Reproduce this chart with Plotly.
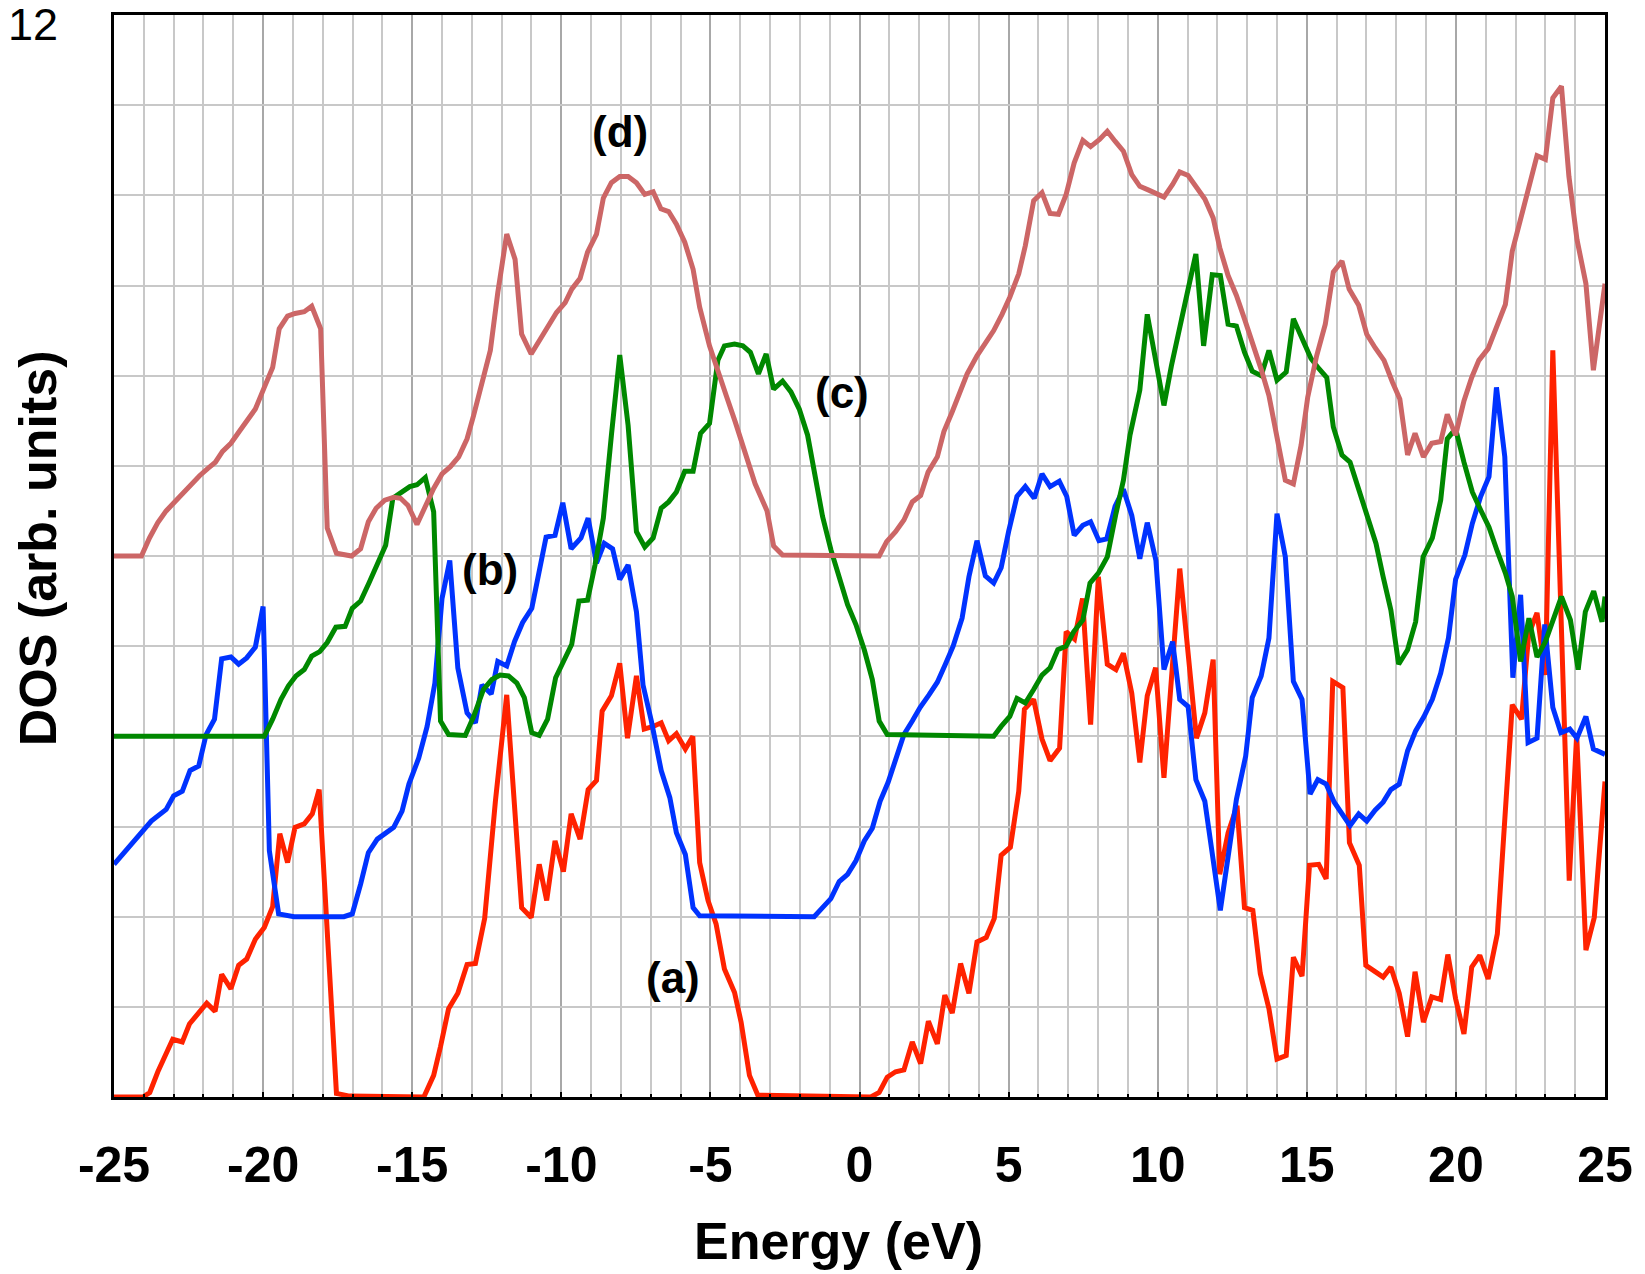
import plotly.graph_objects as go

# Energy grid (eV) and DOS values for each curve; curves are stacked with offsets 0, 2, 4, 6
energy_a = [-25, -24.03, -23.8, -23.53, -23.03, -22.71, -22.47, -22.19, -21.89, -21.61, -21.39, -21.08,
            -20.82, -20.55, -20.26, -19.96, -19.68, -19.44, -19.18, -18.93, -18.62, -18.35, -18.12, -17.54,
            -17.1, -14.61, -14.28, -14.05, -13.78, -13.47, -13.16, -12.88, -12.57, -12.21, -11.83, -11.33,
            -11.01, -10.74, -10.49, -10.21, -9.93, -9.67, -9.37, -9.10, -8.82, -8.63, -8.32, -8.04, -7.78,
            -7.48, -7.22, -6.92, -6.65, -6.40, -6.14, -5.84, -5.59, -5.36, -5.08, -4.81, -4.53, -4.19, -3.97,
            -3.69, -3.41, 0.38, 0.66, 0.93, 1.21, 1.49, 1.77, 2.05, 2.31, 2.61, 2.86, 3.11, 3.39, 3.67, 3.94,
            4.25, 4.52, 4.75, 5.06, 5.34, 5.53, 5.84, 6.12, 6.39, 6.71, 6.93, 7.21, 7.48, 7.75, 8.01, 8.31,
            8.60, 8.85, 9.13, 9.40, 9.65, 9.93, 10.21, 10.74, 11.30, 11.58, 11.86, 12.08, 12.36, 12.66, 12.91,
            13.19, 13.44, 13.73, 14.00, 14.31, 14.55, 14.84, 15.09, 15.40, 15.65, 15.87, 16.21, 16.43, 16.76,
            16.98, 17.29, 17.56, 17.82, 18.10, 18.38, 18.63, 18.91, 19.19, 19.49, 19.73, 19.99, 20.27, 20.53,
            20.80, 21.08, 21.39, 21.89, 22.20, 22.44, 22.72, 23.00, 23.25, 23.80, 24.05, 24.36, 24.64, 25.0]
dos_a = [0, 0, 0.05, 0.28, 0.64, 0.61, 0.81, 0.93, 1.04, 0.95, 1.36, 1.20,
         1.46, 1.53, 1.75, 1.88, 2.11, 2.92, 2.60, 2.99, 3.03, 3.14, 3.41, 0.04,
         0.01, 0, 0.24, 0.56, 0.98, 1.15, 1.47, 1.48, 1.98, 3.28, 4.46, 2.10,
         1.99, 2.58, 2.18, 2.84, 2.50, 3.14, 2.86, 3.41, 3.51, 4.28, 4.45, 4.81, 3.98,
         4.67, 4.08, 4.11, 4.15, 3.95, 4.03, 3.86, 4.00, 2.60, 2.18, 1.92, 1.42, 1.16, 0.83,
         0.24, 0.02, 0, 0.05, 0.22, 0.28, 0.30, 0.61, 0.37, 0.84, 0.59, 1.13, 0.93, 1.48, 1.15, 1.72,
         1.77, 1.98, 2.68, 2.77, 3.39, 4.30, 4.41, 3.97, 3.73, 3.87, 5.16, 5.08, 5.53, 4.13, 5.77, 4.80,
         4.74, 4.92, 4.48, 3.71, 4.45, 4.76, 3.54, 5.86, 3.98, 4.26, 4.85, 2.47, 2.93, 3.23, 2.10,
         2.07, 1.37, 0.98, 0.42, 0.46, 1.55, 1.34, 2.57, 2.58, 2.42, 4.61, 4.54, 2.82, 2.57,
         1.46, 1.39, 1.33, 1.44, 1.15, 0.67, 1.39, 0.83, 1.11, 1.08, 1.58, 1.09, 0.70, 1.44,
         1.57, 1.31, 1.81, 4.35, 4.19, 5.13, 5.37, 4.68, 8.28, 2.40, 4.02, 1.63, 1.99, 3.50]

energy_b = [-25, -23.75, -23.25, -23.0, -22.71, -22.45, -22.16, -21.91, -21.63, -21.39, -21.08, -20.82,
            -20.55, -20.26, -20.0, -19.79, -19.48, -18.96, -17.29, -17.01, -16.73, -16.47, -16.17, -15.89,
            -15.62, -15.34, -15.11, -14.78, -14.50, -14.24, -14.0, -13.74, -13.47, -13.16, -12.88, -12.66,
            -12.35, -12.13, -11.83, -11.57, -11.30, -10.99, -10.77, -10.51, -10.21, -9.95, -9.67, -9.34,
            -9.10, -8.82, -8.56, -8.28, -8.04, -7.76, -7.48, -7.26, -6.98, -6.65, -6.36, -6.14, -5.84,
            -5.58, -5.36, -1.52, -1.24, -0.96, -0.68, -0.40, -0.12, 0.16, 0.43, 0.69, 0.96, 1.21, 1.49,
            1.77, 2.03, 2.33, 2.61, 2.88, 3.14, 3.44, 3.67, 3.94, 4.22, 4.50, 4.75, 5.0, 5.28, 5.56, 5.86,
            6.12, 6.39, 6.70, 6.95, 7.20, 7.49, 7.75, 8.03, 8.29, 8.57, 8.85, 9.13, 9.40, 9.65, 9.94,
            10.21, 10.50, 10.74, 11.02, 11.28, 11.58, 12.10, 12.64, 12.95, 13.17, 13.47, 13.73, 14.00,
            14.28, 14.55, 14.84, 15.11, 15.37, 15.65, 15.92, 16.20, 16.45, 16.74, 17.01, 17.29, 17.56,
            17.82, 18.10, 18.38, 18.65, 18.93, 19.21, 19.49, 19.75, 19.99, 20.30, 20.55, 20.83, 21.11,
            21.36, 21.64, 21.91, 22.17, 22.42, 22.72, 22.98, 23.25, 23.52, 23.82, 24.06, 24.36, 24.61, 25.0]
dos_b = [2.58, 3.06, 3.19, 3.34, 3.39, 3.62, 3.67, 4.02, 4.19, 4.86, 4.88, 4.80,
         4.87, 4.99, 5.44, 2.73, 2.03, 2.0, 2.0, 2.03, 2.36, 2.71, 2.86, 2.92,
         2.99, 3.17, 3.47, 3.76, 4.11, 4.59, 5.53, 5.95, 4.76, 4.26, 4.15, 4.57,
         4.47, 4.83, 4.78, 5.05, 5.26, 5.42, 5.79, 6.21, 6.23, 6.59, 6.08, 6.20,
         6.42, 5.92, 6.14, 6.08, 5.74, 5.90, 5.38, 4.57, 4.17, 3.62, 3.32, 2.93, 2.69,
         2.10, 2.01, 2.0, 2.10, 2.20, 2.39, 2.47, 2.62, 2.84, 2.98, 3.28, 3.49, 3.76, 4.02,
         4.17, 4.32, 4.46, 4.60, 4.80, 5.0, 5.31, 5.77, 6.17, 5.78, 5.70, 5.87, 6.27, 6.66, 6.77, 6.64,
         6.91, 6.77, 6.83, 6.66, 6.23, 6.34, 6.38, 6.17, 6.19, 6.55, 6.74, 6.45, 5.97, 6.37, 5.95,
         4.74, 5.05, 4.41, 4.33, 3.52, 3.28, 2.07, 3.30, 3.78, 4.43, 4.67, 5.09, 6.47,
         5.99, 4.61, 4.41, 3.36, 3.52, 3.47, 3.27, 3.12, 3.01, 3.14, 3.06, 3.18, 3.27,
         3.41, 3.47, 3.84, 4.06, 4.22, 4.41, 4.70, 5.09, 5.74, 6.01, 6.36, 6.66, 6.88,
         7.87, 7.10, 4.65, 5.57, 3.93, 3.98, 5.24, 4.32, 4.04, 4.08, 3.98, 4.22, 3.86, 3.80]

energy_c = [-25, -19.96, -19.68, -19.40, -19.15, -18.90, -18.62, -18.37, -18.10, -17.85, -17.56, -17.25,
            -17.01, -16.73, -16.45, -16.17, -15.89, -15.65, -15.34, -15.08, -14.84, -14.56, -14.28, -14.05,
            -13.78, -13.22, -12.94, -12.61, -12.33, -12.05, -11.77, -11.49, -11.24, -10.99, -10.74, -10.46,
            -10.19, -9.93, -9.65, -9.41, -9.12, -8.87, -8.59, -8.32, -8.04, -7.76, -7.48, -7.20, -6.92,
            -6.65, -6.40, -6.14, -5.86, -5.58, -5.33, -5.03, -4.75, -4.53, -4.19, -3.91, -3.66, -3.39,
            -3.13, -2.88, -2.58, -2.30, -2.02, -1.74, -1.52, -1.24, -0.96, -0.68, -0.40, -0.12, 0.16, 0.43,
            0.66, 0.93, 4.50, 4.75, 5.04, 5.28, 5.56, 5.84, 6.12, 6.39, 6.65, 6.93, 7.18, 7.49, 7.73, 8.01,
            8.31, 8.60, 8.85, 9.07, 9.40, 9.65, 9.93, 10.21, 10.46, 10.74, 11.02, 11.28, 11.54, 11.83,
            12.10, 12.36, 12.64, 12.91, 13.17, 13.47, 13.73, 14.00, 14.31, 14.55, 14.84, 15.14, 15.40,
            15.67, 15.89, 16.18, 16.45, 16.74, 17.01, 17.32, 17.56, 17.82, 18.08, 18.38, 18.65, 18.90,
            19.21, 19.49, 19.71, 19.99, 20.27, 20.55, 20.83, 21.11, 21.39, 21.66, 21.89, 22.17, 22.45,
            22.72, 23.00, 23.28, 23.54, 23.84, 24.10, 24.34, 24.62, 24.90, 25.0]
dos_c = [4.0, 4.0, 4.19, 4.41, 4.56, 4.67, 4.74, 4.89, 4.94, 5.04, 5.21, 5.22,
         5.42, 5.50, 5.70, 5.90, 6.12, 6.64, 6.72, 6.77, 6.79, 6.87, 6.49, 4.17,
         4.02, 4.01, 4.22, 4.52, 4.63, 4.68, 4.67, 4.59, 4.43, 4.04, 4.01, 4.19,
         4.65, 4.83, 5.02, 5.50, 5.51, 5.90, 6.42, 7.34, 8.23, 7.45, 6.27, 6.10, 6.20,
         6.53, 6.60, 6.71, 6.94, 6.94, 7.36, 7.47, 8.17, 8.33, 8.35, 8.33, 8.26, 8.02,
         8.24, 7.85, 7.94, 7.82, 7.63, 7.34, 6.91, 6.44, 6.07, 5.74, 5.46, 5.24, 4.96, 4.63,
         4.17, 4.02, 4.0, 4.11, 4.22, 4.42, 4.37, 4.52, 4.68, 4.76, 4.96, 5.00, 5.16, 5.29, 5.70, 5.81,
         5.99, 6.47, 6.84, 7.34, 7.84, 8.68, 8.15, 7.67, 8.11, 8.57, 8.96, 9.35, 8.33, 9.12,
         9.11, 8.57, 8.55, 8.26, 8.05, 8.00, 8.28, 7.95, 8.04, 8.63, 8.41, 8.19, 8.08,
         7.98, 7.43, 7.12, 7.04, 6.73, 6.44, 6.14, 5.77, 5.40, 4.80, 4.96, 5.27, 5.99,
         6.20, 6.62, 7.30, 7.41, 7.04, 6.71, 6.51, 6.32, 6.05, 5.81, 5.55, 4.83, 5.31,
         4.88, 5.05, 5.31, 5.55, 5.29, 4.74, 5.38, 5.61, 5.27, 5.55]

energy_d = [-25, -24.08, -23.81, -23.53, -23.25, -22.97, -22.69, -22.41, -22.13, -21.86, -21.60, -21.36,
            -21.08, -20.80, -20.52, -20.26, -19.96, -19.68, -19.46, -19.18, -18.93, -18.62, -18.37, -18.07,
            -17.85, -17.54, -17.03, -16.73, -16.47, -16.21, -15.92, -15.62, -15.39, -15.14, -14.84, -14.56,
            -14.28, -14.0, -13.72, -13.44, -13.16, -12.94, -12.66, -12.38, -12.13, -11.83, -11.55, -11.33,
            -11.01, -10.71, -10.43, -10.16, -9.87, -9.65, -9.37, -9.12, -8.82, -8.59, -8.32, -8.04, -7.76,
            -7.48, -7.20, -6.92, -6.66, -6.40, -6.14, -5.86, -5.58, -5.36, -5.03, -4.75, -4.47, -4.17,
            -3.85, -3.50, -3.10, -2.88, -2.58, 0.66, 0.91, 1.21, 1.49, 1.77, 2.05, 2.30, 2.61, 2.83, 3.11,
            3.39, 3.61, 3.94, 4.22, 4.50, 4.78, 5.04, 5.34, 5.56, 5.84, 6.12, 6.39, 6.67, 6.93, 7.20, 7.49,
            7.75, 8.05, 8.31, 8.57, 8.85, 9.13, 9.40, 9.68, 9.96, 10.21, 10.50, 10.74, 11.02, 11.30, 11.58,
            11.86, 12.08, 12.36, 12.64, 12.91, 13.19, 13.47, 13.73, 13.98, 14.28, 14.55, 14.81, 15.03,
            15.33, 15.62, 15.89, 16.18, 16.42, 16.74, 17.01, 17.29, 17.59, 17.87, 18.12, 18.38, 18.63,
            18.91, 19.19, 19.49, 19.71, 19.99, 20.27, 20.53, 20.77, 21.08, 21.39, 21.66, 21.89, 22.17,
            22.44, 22.72, 23.0, 23.25, 23.54, 23.79, 24.06, 24.36, 24.61, 24.84, 25.0]
dos_d = [6.0, 6.0, 6.20, 6.37, 6.50, 6.60, 6.71, 6.79, 6.89, 6.97, 7.04, 7.16,
         7.25, 7.38, 7.50, 7.63, 7.87, 8.09, 8.52, 8.66, 8.69, 8.71, 8.77, 8.52,
         6.31, 6.03, 6.0, 6.08, 6.38, 6.53, 6.62, 6.65, 6.64, 6.56, 6.35, 6.56,
         6.75, 6.91, 6.99, 7.10, 7.30, 7.56, 7.91, 8.28, 8.92, 9.57, 9.29, 8.46,
         8.24, 8.41, 8.57, 8.70, 8.81, 8.96, 9.08, 9.37, 9.57, 9.97, 10.14, 10.21, 10.21,
         10.14, 10.01, 10.04, 9.85, 9.82, 9.68, 9.48, 9.18, 8.76, 8.33, 8.04, 7.78, 7.49,
         7.15, 6.80, 6.50, 6.11, 6.01, 6.0, 6.16, 6.27, 6.40, 6.60, 6.67, 6.93, 7.10, 7.38, 7.60,
         7.85, 8.02, 8.22, 8.35, 8.50, 8.68, 8.87, 9.13, 9.44, 9.94, 10.03, 9.80, 9.79, 10.01, 10.36, 10.61,
         10.54, 10.62, 10.71, 10.60, 10.49, 10.23, 10.10, 10.06, 10.02, 9.98, 10.12, 10.26, 10.22, 10.10, 9.96,
         9.75, 9.42, 9.11, 8.89, 8.63, 8.37, 8.07, 7.78, 7.34, 6.84, 6.80, 7.23, 7.76,
         8.22, 8.57, 9.15, 9.27, 8.96, 8.78, 8.46, 8.31, 8.17, 7.93, 7.74, 7.12, 7.36,
         7.10, 7.25, 7.27, 7.57, 7.34, 7.72, 7.98, 8.17, 8.30, 8.57, 8.79, 9.38, 9.73,
         10.08, 10.44, 10.40, 11.08, 11.21, 10.21, 9.51, 9.02, 8.06, 8.68, 9.02]

curve_labels = ["(a)", "(b)", "(c)", "(d)"]
label_x = [-6.25, -12.38, -0.6, -8.04]
label_y = [1.32, 5.85, 7.81, 10.71]
x_ticks = [-25, -20, -15, -10, -5, 0, 5, 10, 15, 20, 25]
x_ticktext = ["-25", "-20", "-15", "-10", "-5", "0", "5", "10", "15", "20", "25"]

colors = ["#FF2200", "#0033FF", "#008800", "#CC6666"]
FONT = "Liberation Sans, Arial, sans-serif"

fig = go.Figure()
for ex, dy, col in zip([energy_a, energy_b, energy_c, energy_d],
                       [dos_a, dos_b, dos_c, dos_d], colors):
    fig.add_trace(go.Scatter(x=ex, y=dy, mode="lines",
                             line=dict(color=col, width=5), showlegend=False))

for txt, lx, ly in zip(curve_labels, label_x, label_y):
    fig.add_annotation(x=lx, y=ly, text=txt, showarrow=False,
                       font=dict(family=FONT, size=44, color="black", weight="bold"),
                       xanchor="center", yanchor="middle")

# axis titles and the single y value label
fig.add_annotation(xref="paper", yref="paper", x=0.486, y=-0.1327, text="Energy (eV)",
                   showarrow=False, xanchor="center", yanchor="middle",
                   font=dict(family=FONT, size=52, color="black", weight="bold"))
fig.add_annotation(xref="paper", yref="paper", x=-0.0508, y=0.5074, text="DOS (arb. units)",
                   textangle=-90, showarrow=False, xanchor="center", yanchor="middle",
                   font=dict(family=FONT, size=52, color="black", weight="bold"))
fig.add_annotation(xref="paper", yref="paper", x=-0.0545, y=0.9912, text="12",
                   showarrow=False, xanchor="center", yanchor="middle",
                   font=dict(family=FONT, size=45, color="black"))

fig.update_layout(
    width=1645, height=1274,
    margin=dict(l=114, r=35, t=12, b=177),
    paper_bgcolor="white", plot_bgcolor="white",
    xaxis=dict(range=[-25, 25], tickvals=x_ticks, ticktext=x_ticktext, ticks="inside",
               ticklen=5, tickwidth=2,
               tickcolor="black", showline=True, linewidth=3, linecolor="black", mirror=True,
               showgrid=True, gridcolor="#a8a8a8", gridwidth=1.5, zeroline=False,
               tickfont=dict(family=FONT, size=50, color="black", weight="bold"),
               ticklabelstandoff=22,
               minor=dict(dtick=1, tick0=0, showgrid=True, gridcolor="#c8c8c8", gridwidth=1.5,
                          ticks="inside", ticklen=3.5, tickwidth=1.5, tickcolor="black")),
    yaxis=dict(range=[0, 12], dtick=1, showticklabels=False, ticks="", showline=True,
               linewidth=3, linecolor="black", mirror=True, showgrid=True,
               gridcolor="#c8c8c8", gridwidth=1.5, zeroline=False),
)

fig.write_html("out.html")
